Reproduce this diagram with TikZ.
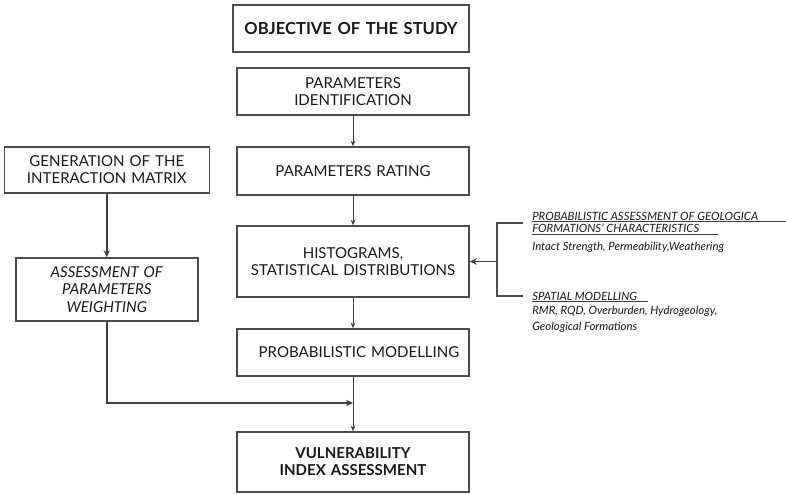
\documentclass[tikz,border=0pt]{standalone}
\usepackage{fontspec}
\setmainfont{Lato}
\usepackage{tikz}
\usetikzlibrary{arrows.meta, positioning, calc}

\begin{document}
\begin{tikzpicture}[
    every node/.style={font=\fontsize{10.7}{12.2}\selectfont, text=black!90},
    box/.style={
        draw=black!70, line width=1.1pt, align=center,
        text width=#1, inner sep=0pt, fill=white
    },
    note/.style={
        font=\fontsize{8.1}{9}\selectfont\itshape, anchor=west, inner sep=0pt
    },
    uline/.style={draw=black!75, line width=0.6pt},
    arrow/.style={
        -{Stealth[length=4pt,width=3.4pt]}, line width=0.6pt, draw=black!75
    },
    bigarrow/.style={
        -{Stealth[length=5pt,width=4.6pt]}, line width=1.3pt, draw=black!75
    },
    bracket/.style={line width=1.2pt, draw=black!70}
]
\useasboundingbox (0,0) rectangle (19.65,-12.35);

% Main column
\node[box=5.9cm, minimum height=1.175cm, font=\fontsize{11.8}{13}\selectfont\bfseries] (objective) at (8.775,-0.7125) {OBJECTIVE OF THE STUDY};
\node[box=5.8cm, minimum height=1.175cm] (ident) at (8.825,-2.2875) {PARAMETERS\\IDENTIFICATION};
\node[box=5.8cm, minimum height=1.2cm] (rating) at (8.825,-4.275) {PARAMETERS RATING};
\node[box=5.8cm, minimum height=1.775cm] (histo) at (8.825,-6.5375) {HISTOGRAMS,\\STATISTICAL DISTRIBUTIONS};
\node[box=5.8cm, minimum height=1.175cm] (model) at (8.825,-8.8125) {\hspace*{0.3cm}PROBABILISTIC MODELLING};
\node[box=5.8cm, minimum height=1.5cm] (vuln) at (8.825,-11.55) {\textbf{VULNERABILITY}\\\textbf{INDEX ASSESSMENT}};

% Weighting branch
\node[box=5.125cm, minimum height=1.15cm] (gen) at (2.67,-4.25) {GENERATION OF THE\\INTERACTION MATRIX};
\node[box=4.55cm, minimum height=1.575cm] (weight) at (2.67,-7.2375) {\itshape ASSESSMENT OF\\\itshape PARAMETERS\\\itshape WEIGHTING};

% Input data notes
\node[note] (geo1) at (13.3,-5.4) {PROBABILISTIC ASSESSMENT OF GEOLOGICA};
\node[note] (geo2) at (13.3,-5.7) {FORMATIONS' CHARACTERISTICS};
\node[note] (geodesc) at (13.3,-6.175) {Intact Strength, Permeability,Weathering};
\node[note] (spatial) at (13.3,-7.4) {SPATIAL MODELLING};
\node[note] (spatdesc1) at (13.3,-7.775) {RMR, RQD, Overburden, Hydrogeology,};
\node[note] (spatdesc2) at (13.3,-8.175) {Geological Formations};

\draw[uline] ([yshift=-1pt]geo1.south west) -- ++(6.35,0);
\draw[uline] ([yshift=-1pt]geo2.south west) -- ++(4.65,0);
\draw[uline] ([yshift=-1pt]spatial.south west) -- ++(2.9,0);

% Bracket feeding the histograms
\coordinate (brtop) at (13.075,-5.5675);
\coordinate (brbot) at (13.075,-7.4);
\coordinate (brx) at (12.425,0);
\draw[bracket] (brtop) -- (brtop -| brx) -- (brbot -| brx) -- (brbot);
\draw[bigarrow] (histo.east -| brx) -- (histo.east);

% Flow arrows
\draw[arrow] (ident) -- (rating);
\draw[arrow] (rating) -- (histo);
\draw[arrow] (histo) -- (model);
\draw[arrow] (model) -- (vuln);
\draw[bigarrow] (gen) -- (weight);

\coordinate (join) at (8.825,-10.075);
\draw[bigarrow] (weight.south) |- (join);

\end{tikzpicture}
\end{document}
